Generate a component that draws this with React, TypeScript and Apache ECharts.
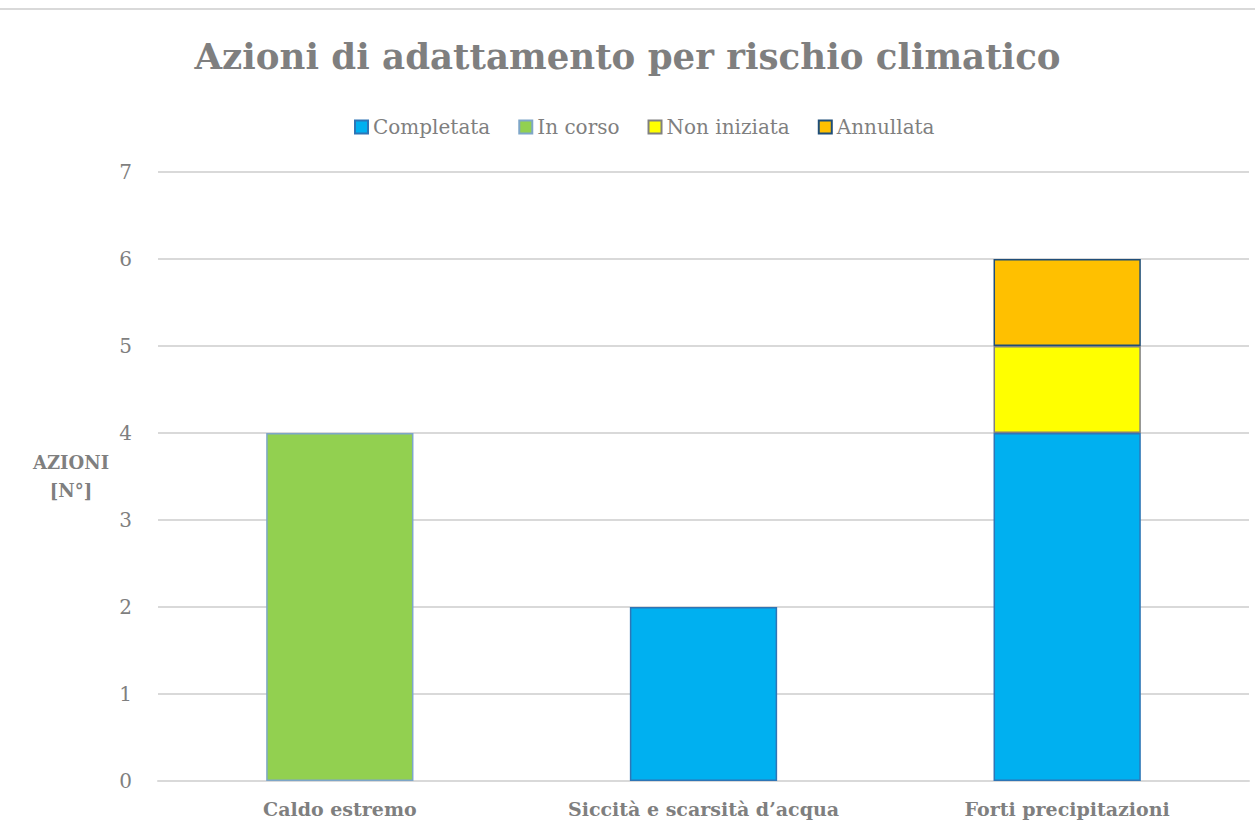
import React, { useEffect, useRef } from "react";
import * as echarts from "echarts";

const categories = ["Caldo estremo", "Siccità e scarsità d’acqua", "Forti precipitazioni"];
const completata = [null, 2, 4];
const inCorso = [4, null, null];
const nonIniziata = [null, null, 1];
const annullata = [null, null, 1];
const seriesNames = ["Completata", "In corso", "Non iniziata", "Annullata"];
const yTicks = [0, 1, 2, 3, 4, 5, 6, 7];

const FONT = "'DejaVu Serif', 'Liberation Serif', serif";
const GREY = "#7f7f7f";

export default function App() {
  const ref = useRef<HTMLDivElement>(null);
  useEffect(() => {
    if (!ref.current) return;
    const chart = echarts.init(ref.current, null, { renderer: "svg" });
    const mk = (name: string, data: (number | null)[], color: string, border: string) => ({
      name,
      type: "bar",
      stack: "total",
      data,
      barWidth: "40.5%",
      itemStyle: { color, borderColor: border, borderWidth: 1.5 },
    });
    chart.setOption({
      animation: false,
      backgroundColor: "#ffffff",
      textStyle: { fontFamily: FONT },
      title: {
        text: "Azioni di adattamento per rischio climatico",
        left: "center",
        top: 33,
        textStyle: { fontFamily: FONT, fontSize: 35.6, fontWeight: "bold", color: GREY },
      },
      legend: {
        data: seriesNames,
        top: 112,
        left: 349,
        itemWidth: 13,
        itemHeight: 13,
        itemGap: 28,
        icon: "rect",
        textStyle: { fontFamily: FONT, fontSize: 20, color: GREY },
      },
      grid: { left: 158, right: 6, top: 172, bottom: 52, containLabel: false },
      xAxis: {
        type: "category",
        data: categories,
        axisLine: { lineStyle: { color: "#d9d9d9", width: 2 } },
        axisTick: { show: false },
        axisLabel: { fontFamily: FONT, fontSize: 19, fontWeight: "bold", color: GREY, margin: 18 },
      },
      yAxis: {
        type: "value",
        min: yTicks[0],
        max: yTicks[yTicks.length - 1],
        interval: 1,
        name: "AZIONI\n[N°]",
        nameLocation: "middle",
        nameRotate: 0,
        nameGap: 87,
        nameTextStyle: {
          fontFamily: FONT,
          fontSize: 18,
          fontWeight: "bold",
          color: GREY,
          lineHeight: 28,
          align: "center",
        },
        axisLine: { show: false },
        axisTick: { show: false },
        axisLabel: { fontFamily: FONT, fontSize: 20, color: GREY, margin: 26 },
        splitLine: { lineStyle: { color: "#d9d9d9", width: 2 } },
      },
      graphic: [
        {
          type: "line",
          shape: { x1: 0, y1: 9, x2: 1255, y2: 9 },
          style: { stroke: "#d9d9d9", lineWidth: 2 },
        },
      ],
      series: [
        mk(seriesNames[0], completata, "#00b0f0", "#2e75b6"),
        mk(seriesNames[1], inCorso, "#92d050", "#7ea6c8"),
        mk(seriesNames[2], nonIniziata, "#ffff00", "#808080"),
        mk(seriesNames[3], annullata, "#ffc000", "#1f4e79"),
      ],
    });
    return () => chart.dispose();
  }, []);
  return (
    <div
      ref={ref}
      style={{ position: "absolute", left: 0, top: 0, width: 1255, height: 833 }}
    />
  );
}
